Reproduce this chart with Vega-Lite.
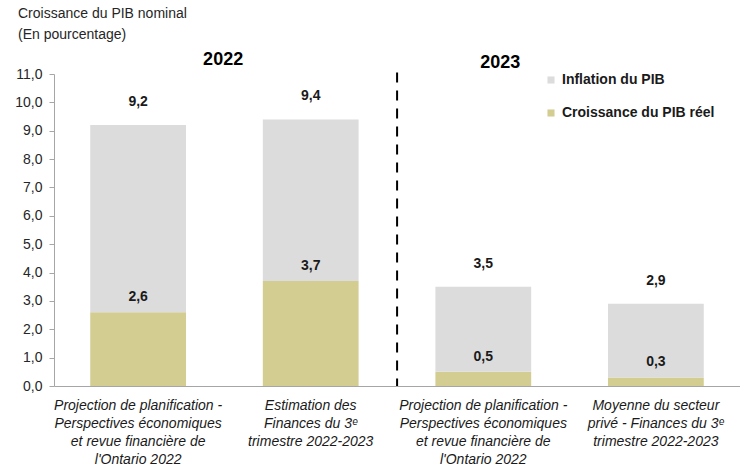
{
  "$schema": "https://vega.github.io/schema/vega-lite/v6.json",
  "width": 686,
  "height": 312,
  "autosize": {"type": "none"},
  "padding": {"left": 54, "top": 74, "right": 0, "bottom": 81},
  "background": "white",
  "title": {
    "text": ["Croissance du PIB nominal", "(En pourcentage)"],
    "anchor": "start",
    "frame": "group",
    "dx": -36,
    "offset": 9,
    "font": "Liberation Sans",
    "fontSize": 14,
    "fontWeight": "normal",
    "color": "#262626",
    "lineHeight": 21
  },
  "config": {
    "view": {"stroke": null},
    "font": "Liberation Sans",
    "locale": {
      "number": {"decimal": ",", "thousands": " ", "grouping": [3], "currency": ["", " $"]}
    },
    "axisY": {
      "values": [0, 1, 2, 3, 4, 5, 6, 7, 8, 9, 10, 11],
      "format": ".1f",
      "grid": false,
      "labelOverlap": false,
      "domainColor": "#A6A6A6",
      "tickColor": "#A6A6A6",
      "tickSize": 5,
      "labelPadding": 7,
      "labelFontSize": 14,
      "labelColor": "#262626",
      "title": null
    }
  },
  "datasets": {
    "bars": [
      {"cat": "A", "serie": "Croissance du PIB réel", "ordre": 1, "value": 2.6},
      {"cat": "A", "serie": "Inflation du PIB", "ordre": 2, "value": 6.6},
      {"cat": "B", "serie": "Croissance du PIB réel", "ordre": 1, "value": 3.7},
      {"cat": "B", "serie": "Inflation du PIB", "ordre": 2, "value": 5.7},
      {"cat": "C", "serie": "Croissance du PIB réel", "ordre": 1, "value": 0.5},
      {"cat": "C", "serie": "Inflation du PIB", "ordre": 2, "value": 3.0},
      {"cat": "D", "serie": "Croissance du PIB réel", "ordre": 1, "value": 0.3},
      {"cat": "D", "serie": "Inflation du PIB", "ordre": 2, "value": 2.6}
    ],
    "reel": [
      {"cat": "A", "value": 2.6},
      {"cat": "B", "value": 3.7},
      {"cat": "C", "value": 0.5},
      {"cat": "D", "value": 0.3}
    ],
    "totaux": [
      {"cat": "A", "value": 9.2},
      {"cat": "B", "value": 9.4},
      {"cat": "C", "value": 3.5},
      {"cat": "D", "value": 2.9}
    ],
    "annee2022": [{"cat": "A", "annee": "2022", "value": 11.5}],
    "annee2023": [{"cat": "C", "annee": "2023", "value": 11.4}],
    "separateur": [
      {"cat": "C", "value": 11.05, "bas": 0}
    ]
  },
  "layer": [
    {
      "data": {"name": "bars"},
      "mark": {"type": "bar"},
      "encoding": {
        "x": {
          "field": "cat",
          "type": "nominal",
          "sort": ["A", "B", "C", "D"],
          "scale": {"paddingInner": 0.445, "paddingOuter": 0.21},
          "axis": {
            "title": null,
            "labelAngle": 0,
            "ticks": false,
            "domainColor": "#A6A6A6",
            "domainWidth": 1,
            "labelPadding": 12,
            "labelFontSize": 14,
            "labelFontStyle": "italic",
            "labelColor": "#1a1a1a",
            "labelLineHeight": 18,
            "labelLimit": 0,
            "labelBaseline": "top",
            "labelExpr": "datum.value == 'A' || datum.value == 'C' ? ['Projection de planification -', 'Perspectives économiques', 'et revue financière de', \"l'Ontario 2022\"] : datum.value == 'B' ? ['Estimation des', 'Finances du 3ᵉ', 'trimestre 2022-2023'] : ['Moyenne du secteur', 'privé - Finances du 3ᵉ', 'trimestre 2022-2023']"
          }
        },
        "y": {
          "field": "value",
          "type": "quantitative",
          "stack": "zero",
          "scale": {"domain": [0, 11], "nice": false},
          "axis": {"values": [0, 1, 2, 3, 4, 5, 6, 7, 8, 9, 10, 11], "format": ".1f", "labelOverlap": false}
        },
        "color": {
          "field": "serie",
          "type": "nominal",
          "scale": {
            "domain": ["Inflation du PIB", "Croissance du PIB réel"],
            "range": ["#DCDCDC", "#D3CD92"]
          },
          "legend": {
            "title": null,
            "orient": "none",
            "legendX": 490,
            "legendY": -1,
            "symbolType": "square",
            "symbolSize": 50,
            "symbolStrokeWidth": 0,
            "labelFontSize": 14,
            "labelFontWeight": "bold",
            "labelColor": "#1a1a1a",
            "labelOffset": 4,
            "rowPadding": 19,
            "labelLimit": 0
          }
        },
        "order": {"field": "ordre", "type": "quantitative"}
      }
    },
    {
      "data": {"name": "reel"},
      "mark": {"type": "text", "baseline": "bottom", "dy": -8, "fontSize": 14, "fontWeight": "bold", "color": "#1a1a1a"},
      "encoding": {
        "x": {"field": "cat", "type": "nominal", "sort": ["A", "B", "C", "D"]},
        "y": {"field": "value", "type": "quantitative", "axis": {"values": [0, 1, 2, 3, 4, 5, 6, 7, 8, 9, 10, 11], "format": ".1f", "labelOverlap": false}},
        "text": {"field": "value", "type": "quantitative", "format": ".1f"}
      }
    },
    {
      "data": {"name": "totaux"},
      "mark": {"type": "text", "baseline": "bottom", "dy": -16, "fontSize": 14, "fontWeight": "bold", "color": "#1a1a1a"},
      "encoding": {
        "x": {"field": "cat", "type": "nominal", "sort": ["A", "B", "C", "D"]},
        "y": {"field": "value", "type": "quantitative", "axis": {"values": [0, 1, 2, 3, 4, 5, 6, 7, 8, 9, 10, 11], "format": ".1f", "labelOverlap": false}},
        "text": {"field": "value", "type": "quantitative", "format": ".1f"}
      }
    },
    {
      "data": {"name": "annee2022"},
      "mark": {"type": "text", "baseline": "middle", "dx": 85, "fontSize": 18, "fontWeight": "bold", "color": "#000000", "clip": false},
      "encoding": {
        "x": {"field": "cat", "type": "nominal", "sort": ["A", "B", "C", "D"]},
        "y": {"field": "value", "type": "quantitative", "axis": {"values": [0, 1, 2, 3, 4, 5, 6, 7, 8, 9, 10, 11], "format": ".1f", "labelOverlap": false}},
        "text": {"field": "annee", "type": "nominal"}
      }
    },
    {
      "data": {"name": "annee2023"},
      "mark": {"type": "text", "baseline": "middle", "dx": 17, "fontSize": 18, "fontWeight": "bold", "color": "#000000", "clip": false},
      "encoding": {
        "x": {"field": "cat", "type": "nominal", "sort": ["A", "B", "C", "D"]},
        "y": {"field": "value", "type": "quantitative", "axis": {"values": [0, 1, 2, 3, 4, 5, 6, 7, 8, 9, 10, 11], "format": ".1f", "labelOverlap": false}},
        "text": {"field": "annee", "type": "nominal"}
      }
    },
    {
      "data": {"name": "separateur"},
      "mark": {"type": "rule", "color": "#000000", "strokeWidth": 2, "strokeDash": [10, 8]},
      "encoding": {
        "x": {"field": "cat", "type": "nominal", "sort": ["A", "B", "C", "D"], "bandPosition": -0.4},
        "y": {"field": "value", "type": "quantitative", "axis": {"values": [0, 1, 2, 3, 4, 5, 6, 7, 8, 9, 10, 11], "format": ".1f", "labelOverlap": false}},
        "y2": {"field": "bas"}
      }
    }
  ]
}
